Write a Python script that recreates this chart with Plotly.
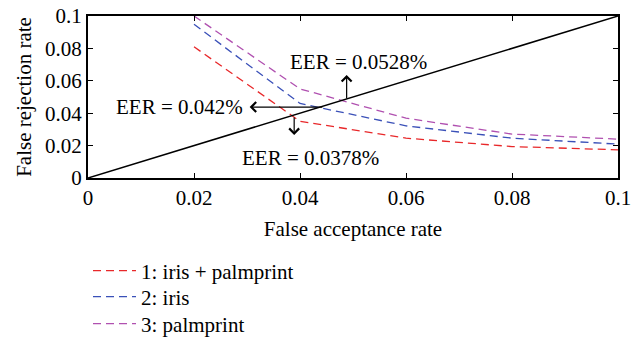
import plotly.graph_objects as go

far = [0.02, 0.04, 0.06, 0.08, 0.1]
frr_fusion = [0.081, 0.0350, 0.0246, 0.0194, 0.0174]
frr_iris = [0.0949, 0.0460, 0.0322, 0.0246, 0.0209]
frr_palm = [0.1000, 0.0550, 0.0369, 0.0271, 0.0240]
series_names = ["1: iris + palmprint", "2: iris", "3: palmprint"]
series_colors = ["#e8282a", "#3a50b8", "#b050b0"]

diag_x = [0, 0.1]
diag_y = [0, 0.1]

eer_labels = ["EER = 0.042%", "EER = 0.0378%", "EER = 0.0528%"]
eer_text_x = [0.0173, 0.0419, 0.0510]
eer_text_y = [0.0440, 0.0124, 0.0716]
arrow_tail_x = [0.0445, 0.0389, 0.0488]
arrow_tail_y = [0.0438, 0.0383, 0.0482]
arrow_head_x = [0.0305, 0.0389, 0.0488]
arrow_head_y = [0.0438, 0.0266, 0.0636]

ticks = [0, 0.02, 0.04, 0.06, 0.08, 0.1]
tick_text = ["0", "0.02", "0.04", "0.06", "0.08", "0.1"]

FONT = "Liberation Serif, 'Times New Roman', 'DejaVu Serif', serif"
FS = 21

legend_ids = ["legend", "legend2", "legend3"]
legend_y = [-0.574, -0.735, -0.901]

fig = go.Figure()
for ys, name, col, lid in zip([frr_fusion, frr_iris, frr_palm], series_names, series_colors, legend_ids):
    fig.add_trace(go.Scatter(x=far, y=ys, mode="lines", name=name, legend=lid,
                             line=dict(color=col, width=1.3, dash="8px,5px")))
fig.add_trace(go.Scatter(x=diag_x, y=diag_y, mode="lines", showlegend=False,
                         line=dict(color="black", width=1.5)))

for lbl, tx, ty in zip(eer_labels, eer_text_x, eer_text_y):
    fig.add_annotation(x=tx, y=ty, xref="x", yref="y", text=lbl, showarrow=False,
                       font=dict(family=FONT, size=FS, color="black"))
for hx, hy, tx, ty in zip(arrow_head_x, arrow_head_y, arrow_tail_x, arrow_tail_y):
    fig.add_annotation(x=hx, y=hy, ax=tx, ay=ty, xref="x", yref="y", axref="x", ayref="y",
                       text="", showarrow=True, arrowhead=4, arrowsize=1.6,
                       arrowwidth=1.2, arrowcolor="black")

axis_common = dict(showgrid=False, zeroline=False, showline=True, linecolor="black",
                   linewidth=2, mirror="ticks", ticks="inside", ticklen=5, tickwidth=1,
                   tickcolor="black", tickvals=ticks, ticktext=tick_text, automargin=False,
                   tickfont=dict(family=FONT, size=FS, color="black"))

legend_layout = {}
for lid, ly in zip(legend_ids, legend_y):
    legend_layout[lid] = dict(x=0, y=ly, xanchor="left", yanchor="middle",
                              bgcolor="rgba(0,0,0,0)", font=dict(family=FONT, size=FS),
                              itemwidth=43)

fig.update_layout(
    width=640, height=338,
    margin=dict(l=88, r=22, t=16, b=160, autoexpand=False),
    paper_bgcolor="white", plot_bgcolor="white",
    font=dict(family=FONT, size=FS, color="black"),
    xaxis=dict(range=[0, 0.1], title=dict(text="False acceptance rate", standoff=12,
               font=dict(family=FONT, size=FS)), **axis_common),
    yaxis=dict(range=[0, 0.1], title=dict(text="False rejection rate", standoff=8,
               font=dict(family=FONT, size=FS)), **axis_common),
    showlegend=True,
    **legend_layout,
)

fig.write_html("out.html", config={"displayModeBar": False})
with open("out.html", "r", encoding="utf-8") as f:
    html = f.read()
html = html.replace("<head>", "<head><style>html,body{margin:0;padding:0;overflow:hidden;}</style>", 1)
with open("out.html", "w", encoding="utf-8") as f:
    f.write(html)
